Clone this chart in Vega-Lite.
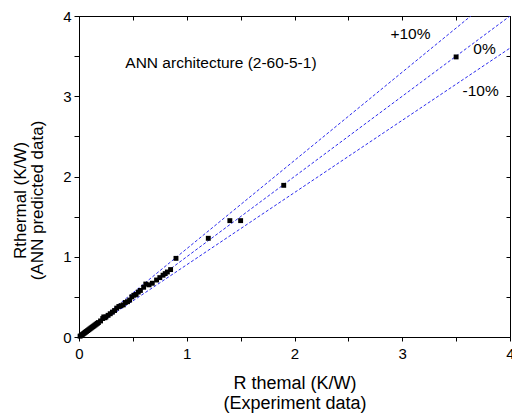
{
  "$schema": "https://vega.github.io/schema/vega-lite/v6.json",
  "width": 431,
  "height": 321,
  "autosize": {"type": "none"},
  "padding": {"left": 79, "top": 16, "right": 2, "bottom": 77},
  "background": "white",
  "config": {
    "view": {"stroke": "black", "strokeWidth": 1},
    "font": "Liberation Sans",
    "axis": {
      "grid": false,
      "domainColor": "black",
      "tickColor": "black",
      "labelColor": "black",
      "titleColor": "black",
      "labelFont": "Liberation Sans",
      "titleFont": "Liberation Sans",
      "labelFontSize": 15,
      "titleFontSize": 18,
      "titleFontWeight": "normal"
    }
  },
  "datasets": {
    "pts": [
      {"x": 0.01, "y": 0.01}, {"x": 0.02, "y": 0.02}, {"x": 0.03, "y": 0.03}, {"x": 0.04, "y": 0.04},
      {"x": 0.05, "y": 0.05}, {"x": 0.06, "y": 0.06}, {"x": 0.07, "y": 0.07}, {"x": 0.08, "y": 0.08},
      {"x": 0.09, "y": 0.09}, {"x": 0.10, "y": 0.10}, {"x": 0.11, "y": 0.11}, {"x": 0.12, "y": 0.12},
      {"x": 0.13, "y": 0.13}, {"x": 0.14, "y": 0.14}, {"x": 0.15, "y": 0.15}, {"x": 0.16, "y": 0.16},
      {"x": 0.17, "y": 0.17}, {"x": 0.18, "y": 0.18}, {"x": 0.20, "y": 0.20}, {"x": 0.22, "y": 0.23},
      {"x": 0.23, "y": 0.25}, {"x": 0.24, "y": 0.24}, {"x": 0.25, "y": 0.25}, {"x": 0.27, "y": 0.27},
      {"x": 0.29, "y": 0.29}, {"x": 0.31, "y": 0.31}, {"x": 0.33, "y": 0.33}, {"x": 0.35, "y": 0.36},
      {"x": 0.37, "y": 0.38}, {"x": 0.39, "y": 0.39}, {"x": 0.41, "y": 0.40}, {"x": 0.43, "y": 0.43},
      {"x": 0.45, "y": 0.44}, {"x": 0.47, "y": 0.46}, {"x": 0.49, "y": 0.50}, {"x": 0.51, "y": 0.52},
      {"x": 0.53, "y": 0.53}, {"x": 0.55, "y": 0.56}, {"x": 0.57, "y": 0.58}, {"x": 0.60, "y": 0.62},
      {"x": 0.62, "y": 0.66}, {"x": 0.65, "y": 0.65}, {"x": 0.68, "y": 0.67}, {"x": 0.72, "y": 0.71},
      {"x": 0.75, "y": 0.74}, {"x": 0.78, "y": 0.77}, {"x": 0.80, "y": 0.79}, {"x": 0.82, "y": 0.81},
      {"x": 0.85, "y": 0.84}, {"x": 0.90, "y": 0.98}, {"x": 1.20, "y": 1.23}, {"x": 1.40, "y": 1.45},
      {"x": 1.50, "y": 1.45}, {"x": 1.90, "y": 1.89}, {"x": 3.50, "y": 3.49}
    ],
    "lines": [
      {"x": 0, "y": 0, "s": "+10%"}, {"x": 4, "y": 4.4, "s": "+10%"},
      {"x": 0, "y": 0, "s": "0%"}, {"x": 4, "y": 4, "s": "0%"},
      {"x": 0, "y": 0, "s": "-10%"}, {"x": 4, "y": 3.6, "s": "-10%"}
    ],
    "labels": [
      {"x": 0.43, "y": 3.41, "t": "ANN architecture (2-60-5-1)"},
      {"x": 2.89, "y": 3.78, "t": "+10%"},
      {"x": 3.66, "y": 3.59, "t": "0%"},
      {"x": 3.56, "y": 3.07, "t": "-10%"}
    ]
  },
  "layer": [
    {
      "data": {"name": "lines"},
      "mark": {"type": "line", "clip": true, "color": "#2b2bee", "strokeWidth": 1, "strokeDash": [3, 2]},
      "encoding": {
        "x": {"field": "x", "type": "quantitative", "scale": {"domain": [0, 4], "nice": false},
          "axis": {"orient": "top", "values": [0, 0.5, 1, 1.5, 2, 2.5, 3, 3.5, 4], "labels": false, "title": null, "tickSize": -4, "domain": false}},
        "y": {"field": "y", "type": "quantitative", "scale": {"domain": [0, 4], "nice": false},
          "axis": {"orient": "right", "values": [0, 0.5, 1, 1.5, 2, 2.5, 3, 3.5, 4], "labels": false, "title": null, "tickSize": -4, "domain": false}},
        "detail": {"field": "s"}
      }
    },
    {
      "data": {"name": "pts"},
      "mark": {"type": "point", "shape": "square", "filled": true, "color": "black", "size": 24, "opacity": 1},
      "encoding": {
        "x": {"field": "x", "type": "quantitative", "scale": {"domain": [0, 4], "nice": false},
          "axis": {"orient": "bottom", "values": [0, 0.5, 1, 1.5, 2, 2.5, 3, 3.5, 4],
            "labelExpr": "datum.value % 1 === 0 ? format(datum.value, 'd') : ''",
            "tickSize": 4, "labelPadding": 5, "labelFlush": false, "labelOverlap": false,
            "title": ["R themal (K/W)", "(Experiment data)"],
            "titleBaseline": "top", "titleY": 37, "titleLineHeight": 20}},
        "y": {"field": "y", "type": "quantitative", "scale": {"domain": [0, 4], "nice": false},
          "axis": {"orient": "left", "values": [0, 0.5, 1, 1.5, 2, 2.5, 3, 3.5, 4],
            "labelExpr": "datum.value % 1 === 0 ? format(datum.value, 'd') : ''",
            "tickSize": 5, "labelPadding": 3, "labelFlush": false, "labelOverlap": false,
            "title": ["Rthermal (K/W)", "(ANN predicted data)"],
            "titleFontSize": 17,
            "titleAngle": -90, "titleBaseline": "top", "titleX": -67, "titleY": 184, "titleAlign": "center", "titleLineHeight": 17}}
      }
    },
    {
      "data": {"name": "labels"},
      "mark": {"type": "text", "align": "left", "baseline": "middle", "fontSize": 15.5, "color": "black", "font": "Liberation Sans"},
      "encoding": {
        "x": {"field": "x", "type": "quantitative", "axis": null},
        "y": {"field": "y", "type": "quantitative", "axis": null},
        "text": {"field": "t"}
      }
    }
  ],
  "resolve": {"axis": {"x": "independent", "y": "independent"}}
}
